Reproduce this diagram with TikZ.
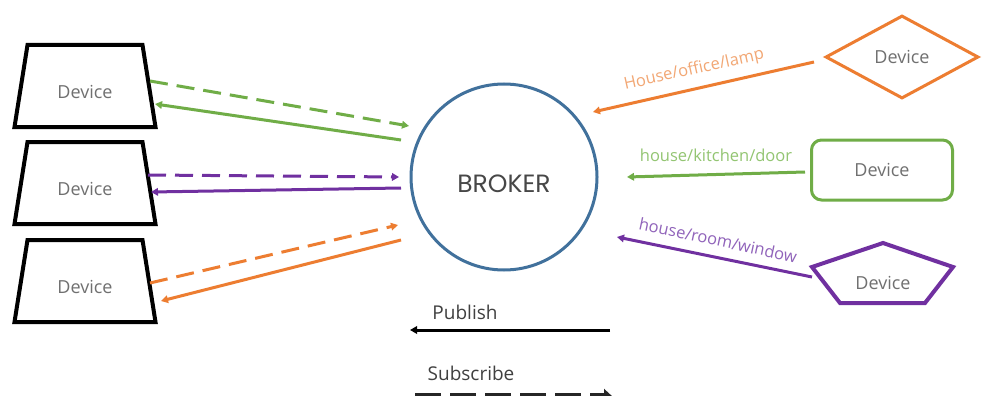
\documentclass[tikz,border=0pt]{standalone}
\usepackage{fontspec}
\setmainfont{Open Sans}
\newfontfamily\brokerfont{Poppins}
\usetikzlibrary{shapes.geometric,arrows.meta}
\definecolor{cgreen}{HTML}{70AD47}
\definecolor{cgreenl}{HTML}{93C572}
\definecolor{corange}{HTML}{ED7D31}
\definecolor{corangel}{HTML}{F2A774}
\definecolor{cpurple}{HTML}{7030A0}
\definecolor{cpurplel}{HTML}{9063BA}
\definecolor{cblue}{HTML}{41719C}
\definecolor{ctext}{HTML}{707070}
\tikzset{
  devtxt/.style={font=\fontsize{18}{21}\selectfont, text=ctext},
  trap/.style={draw=black, line width=4pt, trapezium, trapezium left angle=76,
    trapezium right angle=76, minimum width=141pt, minimum height=82pt,
    trapezium stretches=true, inner sep=0pt, devtxt, text height=25pt, text depth=0pt},
  conn/.style={line width=3pt, -{Triangle[length=7pt,width=7.5pt]}},
  dashconn/.style={conn, dash pattern=on 18pt off 9pt},
  lbl/.style={font=\fontsize{16.5}{19}\selectfont, inner sep=0pt},
  legtxt/.style={font=\fontsize{19}{22}\selectfont, text=black!75},
}
\begin{document}
\begin{tikzpicture}[x=1pt,y=-1pt]
\useasboundingbox (0,0) rectangle (982,396);
\fill[white] (0,0) rectangle (982,396);

% left devices
\node[trap] (d1) at (85,86) {Device};
\node[trap] (d2) at (85,183) {Device};
\node[trap] (d3) at (85,281) {Device};

% broker
\node[circle, draw=cblue, line width=3pt, minimum size=186pt, inner sep=0pt,
  font=\brokerfont\fontsize{25}{30}\selectfont, text=black!72,
  text height=31pt, text depth=0pt] (broker) at (504,177) {BROKER};

% right devices
\node[diamond, draw=corange, line width=3pt, minimum width=153pt, minimum height=83pt,
  inner sep=0pt, devtxt] (r1) at (902,57) {Device};
\node[rectangle, rounded corners=10pt, draw=cgreen, line width=3pt, minimum width=141pt,
  minimum height=60pt, devtxt] (r2) at (882,170) {Device};
\node[devtxt] (r3) at (883,283) {Device};
\draw[cpurple, line width=4pt, line join=miter]
  (812,267) -- (883,243) -- (953,267) -- (925,303) -- (840,303) -- cycle;

% connector end points
\coordinate (g1s) at (150,81);  \coordinate (g1e) at (409,126);
\coordinate (g2s) at (401,140); \coordinate (g2e) at (155,104);
\coordinate (p1s) at (148,175); \coordinate (p1e) at (399,177);
\coordinate (p2s) at (401,188); \coordinate (p2e) at (151,192);
\coordinate (o1s) at (150,283); \coordinate (o1e) at (398,225);
\coordinate (o2s) at (401,240); \coordinate (o2e) at (161,301);
\coordinate (ros) at (814,62);  \coordinate (roe) at (593,112);
\coordinate (rgs) at (805,172); \coordinate (rge) at (627,177);
\coordinate (rps) at (812,277); \coordinate (rpe) at (617,237);

\draw[dashconn, cgreen] (g1s) -- (g1e);
\draw[conn, cgreen] (g2s) -- (g2e);
\draw[dashconn, cpurple] (p1s) -- (p1e);
\draw[conn, cpurple] (p2s) -- (p2e);
\draw[dashconn, corange] (o1s) -- (o1e);
\draw[conn, corange] (o2s) -- (o2e);

\draw[conn, corange] (ros) -- (roe);
\draw[conn, cgreen] (rgs) -- (rge);
\draw[conn, cpurple] (rps) -- (rpe);

\node[lbl, text=corangel, rotate=12.5] (lo) at (694,70) {House/office/lamp};
\node[lbl, text=cgreenl] (lg) at (716,155) {house/kitchen/door};
\node[lbl, text=cpurplel, rotate=-12] (lp) at (718,240) {house/room/window};

% legend
\coordinate (pubs) at (610,330); \coordinate (pube) at (410,330);
\draw[conn, black] (pubs) -- (pube);
\node[legtxt] (pub) at (465,312) {Publish};
\node[legtxt] (sub) at (471,373) {Subscribe};
\coordinate (subs) at (415,397); \coordinate (sube) at (613,397);
\draw[line width=9pt, black!85, dash pattern=on 26pt off 9pt, -{Triangle[length=9pt,width=16pt]}] (subs) -- (sube);
\end{tikzpicture}
\end{document}
